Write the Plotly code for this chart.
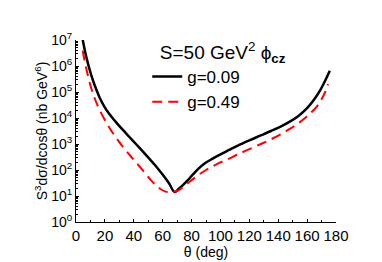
import plotly.graph_objects as go

# readings: theta (deg) and log10 of S^3 dsigma/dcos(theta) (nb GeV^6)
theta_a = [4.6, 6.9, 10.4, 13, 16.1, 19.5, 23.1, 27.5, 32.3, 37, 41.5, 47.3, 51, 54.5, 58,
           61.4, 64.5, 68.3, 71, 74, 77.6, 81, 85, 89, 94, 100, 106, 112, 120, 128, 135,
           142, 148, 154, 160, 165, 169, 172, 175.7]
log_a = [7.03, 6.40, 5.68, 5.25, 4.82, 4.45, 4.15, 3.85, 3.55, 3.27, 3.00, 2.65, 2.42, 2.20,
         1.96, 1.72, 1.48, 1.15, 1.27, 1.42, 1.62, 1.83, 2.06, 2.25, 2.42, 2.60, 2.77, 2.94,
         3.14, 3.33, 3.50, 3.68, 3.86, 4.08, 4.38, 4.72, 5.06, 5.38, 5.82]

theta_b = [4.6, 6.9, 10, 13, 16, 20, 24, 28, 33, 38, 43, 48, 52, 56, 59, 62, 65, 68, 71,
           74, 77.6, 81, 85, 90, 95, 100, 106, 112, 120, 128, 135, 142, 148, 154, 159, 163,
           167, 170, 172.5, 174.5]
log_b = [6.59, 5.95, 5.25, 4.75, 4.35, 3.92, 3.55, 3.22, 2.85, 2.52, 2.20, 1.87, 1.60, 1.38,
         1.25, 1.17, 1.14, 1.16, 1.22, 1.34, 1.50, 1.65, 1.82, 2.00, 2.15, 2.29, 2.44, 2.60,
         2.80, 3.00, 3.18, 3.38, 3.58, 3.80, 4.02, 4.22, 4.46, 4.72, 5.00, 5.30]

sig_a = [10 ** v for v in log_a]
sig_b = [10 ** v for v in log_b]

name_a = "g=0.09"
name_b = "g=0.49"
legend_title = "\u00a0\u00a0S=50 GeV<sup>2</sup> ϕ<sub><b>cz</b></sub>"

xticks = [0, 20, 40, 60, 80, 100, 120, 140, 160, 180]
yticks = [1, 10, 100, 1e3, 1e4, 1e5, 1e6, 1e7]
ytext = ["10<sup>%d</sup>" % i for i in range(8)]

fig = go.Figure()
fig.add_trace(go.Scatter(x=theta_a, y=sig_a, mode="lines", name=name_a,
                         line=dict(color="black", width=2.5, shape="spline", smoothing=1.0)))
fig.add_trace(go.Scatter(x=theta_b, y=sig_b, mode="lines", name=name_b,
                         line=dict(color="#ff0000", width=2, dash="10px,6px", shape="spline", smoothing=1.0)))

font = "Liberation Sans, Arial, sans-serif"
fig.update_layout(
    width=382, height=262,
    margin=dict(l=68, r=54, t=32, b=44),
    paper_bgcolor="white", plot_bgcolor="white",
    font=dict(family=font, color="black", size=15),
    showlegend=True,
    legend=dict(x=0.274, y=1.031, xanchor="left", yanchor="top",
                bgcolor="rgba(0,0,0,0)", font=dict(size=17),
                title=dict(text=legend_title, font=dict(size=19), side="top"),
                tracegroupgap=0, itemwidth=30),
    xaxis=dict(range=[0, 180], tickvals=xticks, showline=True, linecolor="black", linewidth=1,
               ticks="inside", ticklen=3, tickcolor="black", showgrid=False, zeroline=False,
               minor=dict(ticks="inside", ticklen=2, dtick=10, tickcolor="black"),
               title=dict(text="θ (deg)", font=dict(size=14), standoff=4),
               tickfont=dict(size=15)),
    yaxis=dict(type="log", range=[0, 7], tickvals=yticks, ticktext=ytext, showline=True,
               linecolor="black", linewidth=1, ticks="inside", ticklen=3, tickcolor="black",
               showgrid=False, zeroline=False,
               minor=dict(ticks="inside", ticklen=2, dtick="D1", tickcolor="black"),
               title=dict(text="S<sup>3</sup>dσ/dcosθ (nb GeV<sup>6</sup>)", font=dict(size=14), standoff=0),
               tickfont=dict(size=14)),
)
fig.write_html("out.html")
